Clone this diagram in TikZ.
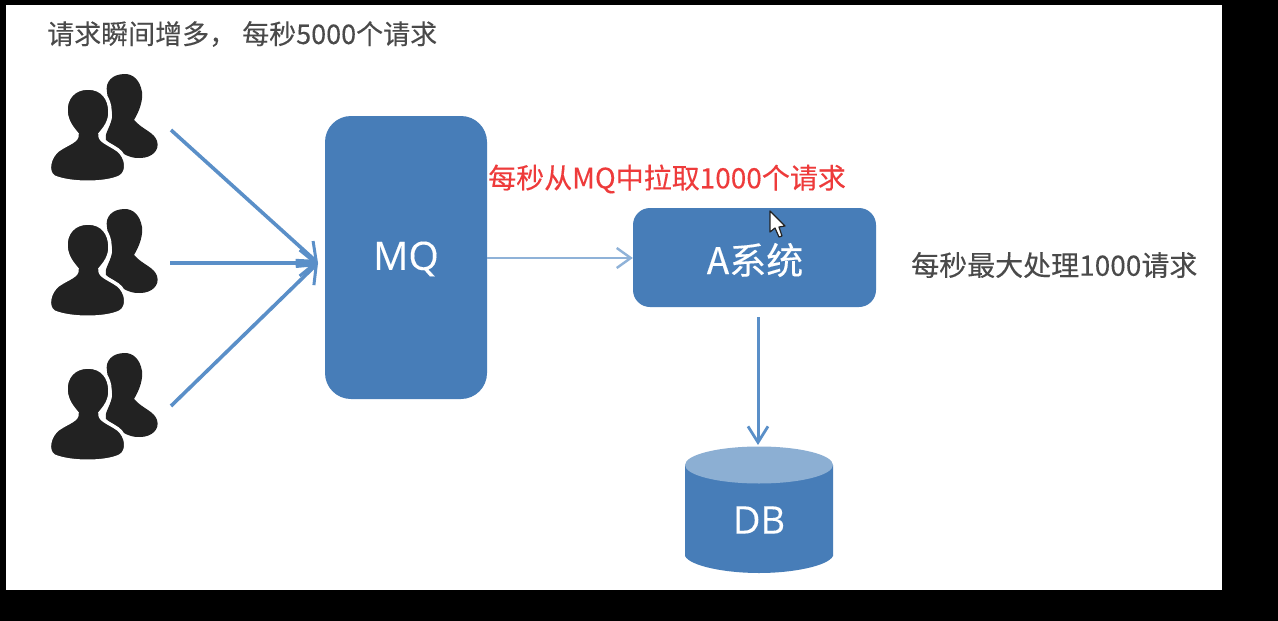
\documentclass[tikz,border=0pt]{standalone}
\usepackage{fontspec}
\setmainfont{Noto Sans CJK SC}
\newfontfamily\heavyf[FakeBold=0.25]{Noto Sans CJK SC}
\newfontfamily\latinf[FakeBold=0.2]{Open Sans}
\usetikzlibrary{arrows.meta}
\definecolor{boxblue}{HTML}{477DB8}
\definecolor{dbtop}{HTML}{8CAFD3}
\definecolor{arrowblue}{HTML}{5A8FC8}
\definecolor{lightarrow}{HTML}{8FB2D8}
\definecolor{inkdark}{HTML}{222222}
\definecolor{txtgray}{HTML}{4A4A4A}
\definecolor{redtxt}{HTML}{EE3B3B}
\tikzset{
  box/.style={fill=boxblue,draw=none,text=white,inner sep=0pt},
  lab/.style={anchor=west,inner sep=0pt,font=\heavyf\fontsize{28}{30}\selectfont},
  feed/.style={draw=arrowblue,line width=3.6pt,-{Straight Barb[length=16pt,width=26pt,line width=3pt]}},
  pull/.style={draw=lightarrow,line width=2.6pt,-{Straight Barb[length=14pt,width=20pt,line width=2.4pt]}},
  down/.style={draw=arrowblue,line width=3pt,-{Straight Barb[length=16pt,width=20pt,line width=2.8pt]}},
  users/.pic={
    % back person
    \fill[inkdark] (125,74) .. controls (112,74) and (105,82) .. (107,92)
      .. controls (108,104) and (113,110) .. (112,118)
      .. controls (110,128) and (104,134) .. (106,140)
      .. controls (116,150) and (128,159) .. (140,158)
      .. controls (152,158) and (160,150) .. (157,141)
      .. controls (154,132) and (143,130) .. (134,120)
      .. controls (140,110) and (143,100) .. (142,92)
      .. controls (140,80) and (133,74) .. (125,74) -- cycle;
    % front person
    \fill[inkdark,draw=white,line width=3.5pt] (88,88) .. controls (74,88) and (65,98) .. (66,112)
      .. controls (67,122) and (72,128) .. (77,134)
      .. controls (78,141) and (68,143) .. (58,150)
      .. controls (49,157) and (46,172) .. (54,177)
      .. controls (70,184) and (106,184) .. (120,177)
      .. controls (129,172) and (127,157) .. (118,150)
      .. controls (108,143) and (99,141) .. (100,134)
      .. controls (105,128) and (110,122) .. (110,112)
      .. controls (110,98) and (102,88) .. (88,88) -- cycle;
  }
}
\begin{document}
\begin{tikzpicture}[x=1pt,y=-1pt]
\useasboundingbox (0,0) rectangle (1278,621);
\fill[black] (0,0) rectangle (1278,621);
\fill[white] (6,5) rectangle (1222,590);

\node[lab,text=txtgray,font=\heavyf\fontsize{27}{29}\selectfont] (title) at (47,34) {请求瞬间增多^^^^ff0c\hspace{6pt}每秒5000个请求};
\node[lab,text=redtxt] (pulltxt) at (488,179) {每秒从MQ中拉取1000个请求};
\node[lab,text=txtgray] (maxtxt) at (911,265) {每秒最大处理1000请求};

\pic at (0,0) {users};
\pic at (0,135) {users};
\pic at (0,279) {users};

\coordinate (u1) at (171,130);
\coordinate (u2) at (170,263);
\coordinate (u3) at (171,406);
\coordinate (hub) at (318,263);

\node[box,rounded corners=26pt,minimum width=162pt,minimum height=283pt] (mq) at (406,257.5) {};
\node[text=white,inner sep=0pt,font=\latinf\fontsize{39}{42}\selectfont] (mqt) at (406,259) {MQ};
\node[box,rounded corners=17pt,minimum width=243pt,minimum height=99pt] (sysa) at (754.5,257.5) {};
\node[text=white,inner sep=0pt,font=\heavyf\fontsize{37}{40}\selectfont] (sysat) at (755,260) {A系统};

% database
\coordinate (dbtopc) at (758,445);
\fill[boxblue] (685,465) -- (685,556) .. controls (690,566) and (725,573) .. (759,573)
  .. controls (793,573) and (828,566) .. (833,556) -- (833,465) -- cycle;
\fill[dbtop] (759,465) ellipse [x radius=74pt,y radius=18.5pt];
\node[text=white,inner sep=0pt,font=\latinf\fontsize{38}{41}\selectfont] (db) at (759,520) {DB};

\draw[feed] (u1) -- (hub);
\draw[feed] (u2) -- (hub);
\draw[feed] (u3) -- (hub);
\draw[pull] (mq.east |- 0,258) -- (sysa.west |- 0,258);
\draw[down] (dbtopc |- 0,317) -- (dbtopc);

% mouse cursor
\fill[white,draw=inkdark,line width=1.2pt,line join=round] (770,211) -- (770,232) -- (775,228) -- (779,237) -- (782,236) -- (779,227) -- (785,226) -- cycle;
\end{tikzpicture}
\end{document}
